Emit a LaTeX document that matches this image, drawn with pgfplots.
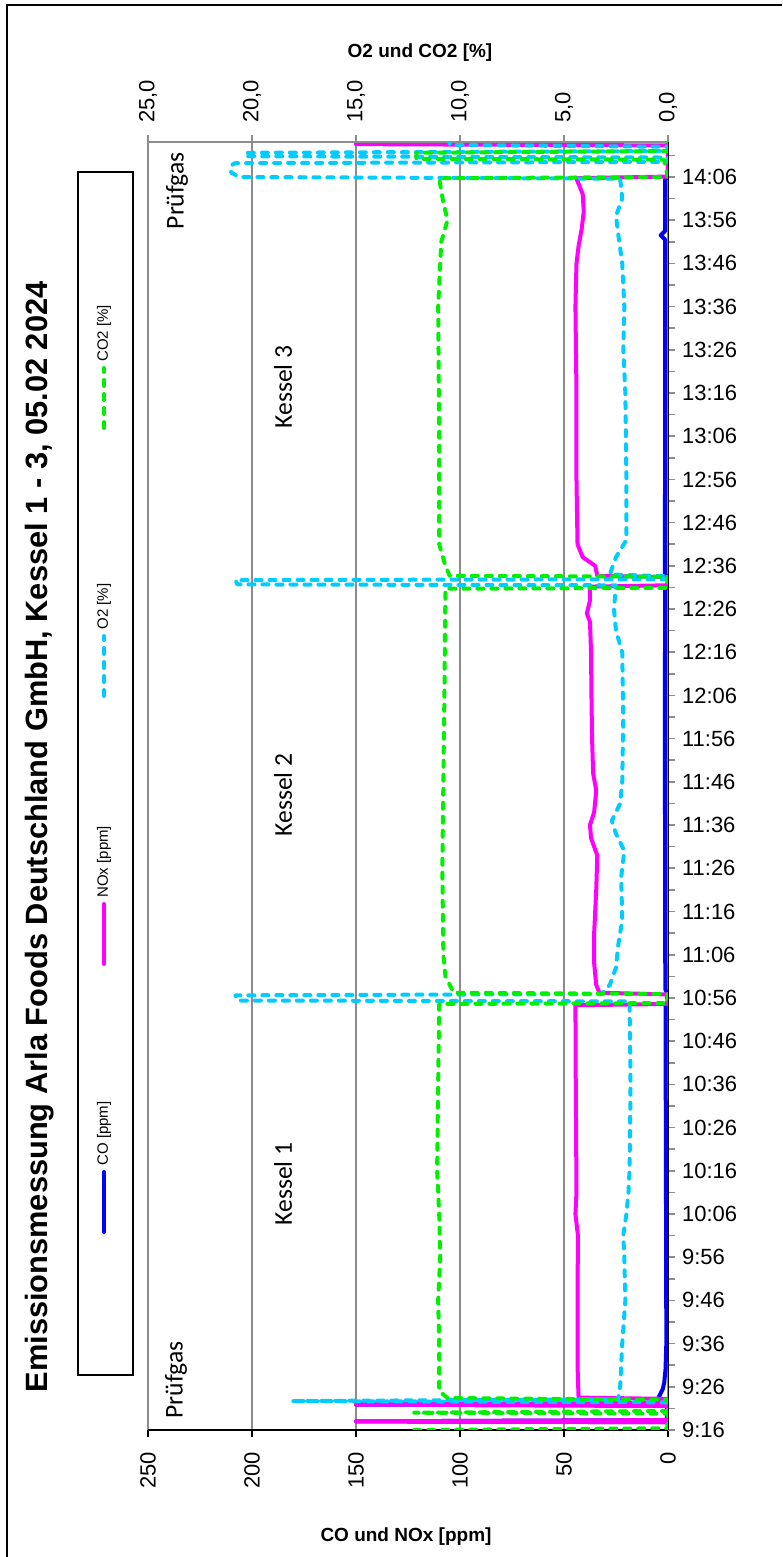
\documentclass[border=0pt]{standalone}
\usepackage{fontspec}
\setmainfont{Liberation Sans}
\newfontfamily\carlito{Carlito}
\usepackage{pgfplots}
\usepackage{pgfplotstable}
\pgfplotsset{compat=1.18}
\definecolor{cCO}{RGB}{0,0,255}
\definecolor{cNOx}{RGB}{255,0,255}
\definecolor{cO2}{RGB}{0,204,255}
\definecolor{cCO2}{RGB}{0,240,0}
\definecolor{gridgray}{RGB}{140,140,140}

% t = minutes after 9:16, v = value
\pgfplotstableread{
t v
0 0
1.8 0
2.0 150
2.3 0.5
5.6 0.5
5.9 150
6.2 1
7.0 3
7.6 4.5
8.5 3.5
9.5 2.5
11 1.8
14 1.2
20 0.8
40 0.9
60 1.0
80 1.1
98.5 1.1
99 0.2
101 0.3
102 1.3
130 1.4
160 1.5
194.5 1.4
195 0.2
197.5 0.2
198 1.5
230 1.4
260 1.4
275.5 1.4
276.5 3.5
277.5 1.4
289.5 1.4
290 0
298.1 0
}\tabCO

\pgfplotstableread{
t v
0 0
1.8 0
2.0 150
2.3 0
5.6 0
5.9 150
6.2 0
7.2 0
7.5 43
15 43.5
30 43.5
45 43.3
50 44.5
55 44
70 44.2
85 44.4
98.3 44.5
98.6 0
100.8 0
101.2 33
103 34.5
108 35.5
115 35.5
125 34.5
133 34
137 37
140 37.5
143 35.5
148 34.5
152 36
160 36.5
170 36.8
180 37
187 37.5
189 39
192 37.5
195.2 37.5
195.5 0
197.4 0
197.7 34
200 35
202 41
205 43.5
220 44
240 44
260 44.5
270 44
274 43
278 41.5
282 40.5
286 41
289 43.5
289.7 44
290.1 0
297.3 0
297.6 150
298.1 150
}\tabNOx

\pgfplotstableread{
t v
0 0
6.4 0
6.7 18.1
7.1 2.4
10 2.3
15 2.25
20 2.2
30 2.05
40 2.1
45 2.15
50 2.0
55 1.9
60 1.85
80 1.8
99.2 1.85
99.4 20.7
100.6 20.8
100.9 3.2
103 2.8
107 2.5
112 2.4
118 2.2
128 2.25
134 2.1
138 2.5
141 2.7
145 2.3
150 2.2
165 2.15
180 2.2
185 2.5
190 2.6
195.5 2.5
195.7 20.7
196.7 20.8
196.9 0
197.6 0
198 2.8
202 2.5
206 2.0
220 2.0
240 2.05
250 2.15
260 2.1
270 2.2
277 2.4
281 2.5
285 2.2
289.6 2.3
290 20.6
291 21
292.7 21
293.2 20.8
293.5 0
294.5 0
294.8 20.3
295.6 20.3
296 0
297.0 0
297.4 10.5
298.1 10.5
}\tabOtwo

\pgfplotstableread{
t v
0 12.2
0.4 0
3.8 0
4.0 12.2
4.4 0
7.0 0
7.4 10.6
9 11.0
20 11.0
30 11.05
40 10.95
50 11.0
60 11.1
80 11.05
98.6 11.0
98.8 0
100.9 0
101.2 10.3
105 10.7
110 10.8
130 10.85
150 10.8
170 10.75
194.7 10.7
194.9 0
197.5 0
197.7 10.5
200 10.7
205 11.0
230 11.0
260 11.05
275 10.9
280 10.6
284 10.8
289.7 11.0
290 0
294 0.2
294.2 12.1
295.6 12.1
296.0 0
298.1 0
}\tabCOtwo

% legend samples (legend-box units: x 0..55, y 0..1203)
\pgfplotstableread{
x y
26 143
26 203
}\legCO
\pgfplotstableread{
x y
26 411
26 471
}\legNOx
\pgfplotstableread{
x y
26 679
26 739
}\legOtwo
\pgfplotstableread{
x y
26 947
26 1007
}\legCOtwo

\pgfplotsset{
  costyle/.style={cCO, line width=2pt, line join=round},
  noxstyle/.style={cNOx, line width=2pt, line join=round},
  otwostyle/.style={cO2, line width=2pt, line cap=round, line join=round, dash pattern=on 3pt off 4pt},
  cotwostyle/.style={cCO2, line width=2pt, line cap=round, line join=round, dash pattern=on 3pt off 4pt},
}

\begin{document}
\begin{tikzpicture}[x=1pt,y=1pt]
\useasboundingbox (0,0) rectangle (391,778.5);
\draw[black, line width=1pt] (3.5,0) -- (3.5,776) -- (391,776);

\begin{axis}[
  at={(74pt,63.5pt)}, anchor=south west,
  width=260pt, height=644pt, scale only axis,
  xmin=0, xmax=250, ymin=0, ymax=298.1,
  x dir=reverse,
  axis x line*=bottom, axis y line*=right,
  axis line style={black, line width=0.8pt},
  xtick={0,50,...,250},
  xticklabel style={rotate=90, anchor=east, font=\fontsize{11}{13}\selectfont},
  xticklabel shift=4pt,
  /pgf/number format/assume math mode=true,
  xmajorgrids, grid style={gridgray, line width=1pt},
  ytick={0,10,...,290}, minor ytick={5,15,...,295},
  yticklabels={9:16,9:26,9:36,9:46,9:56,10:06,10:16,10:26,10:36,10:46,10:56,11:06,11:16,11:26,11:36,11:46,11:56,12:06,12:16,12:26,12:36,12:46,12:56,13:06,13:16,13:26,13:36,13:46,13:56,14:06},
  yticklabel style={anchor=west, font=\fontsize{11}{13}\selectfont},
  tick align=outside,
  major tick length=3.5pt, minor tick length=3.5pt,
  x tick style={black, line width=0.8pt},
  y tick style={gridgray, line width=0.8pt},
  clip=true,
]
\draw[gridgray, line width=1pt] (rel axis cs:1,0) -- (rel axis cs:1,1) -- (rel axis cs:0,1);
\addplot[costyle] table[x=v,y=t] {\tabCO};
\addplot[noxstyle] table[x=v,y=t] {\tabNOx};
\end{axis}

\begin{axis}[
  at={(74pt,63.5pt)}, anchor=south west,
  width=260pt, height=644pt, scale only axis,
  xmin=0, xmax=25, ymin=0, ymax=298.1,
  x dir=reverse,
  axis x line*=top, axis y line=none,
  axis line style={gridgray, line width=1pt},
  xtick={0,5,...,25},
  xticklabel style={rotate=90, anchor=west, font=\fontsize{11}{13}\selectfont,
    /pgf/number format/.cd, fixed, fixed zerofill, precision=1, use comma, assume math mode=true},
  xticklabel shift=2.5pt,
  tick align=outside,
  major tick length=3.5pt,
  x tick style={gridgray, line width=0.8pt},
]
\addplot[otwostyle] table[x=v,y=t] {\tabOtwo};
\addplot[cotwostyle] table[x=v,y=t] {\tabCOtwo};
\end{axis}

% legend box
\begin{axis}[
  at={(39pt,91pt)}, anchor=south west,
  width=27.5pt, height=601.5pt, scale only axis,
  xmin=0, xmax=55, ymin=0, ymax=1203,
  xtick=\empty, ytick=\empty,
  axis line style={black, line width=0.6pt},
  clip=false,
]
\addplot[costyle, line cap=round] table[x=x,y=y] {\legCO};
\addplot[noxstyle, line cap=round] table[x=x,y=y] {\legNOx};
\addplot[otwostyle] table[x=x,y=y] {\legOtwo};
\addplot[cotwostyle] table[x=x,y=y] {\legCOtwo};
\node[rotate=90, anchor=west, inner sep=0pt, font=\fontsize{7.5}{9}\selectfont] at (axis cs:26,209) {CO [ppm]};
\node[rotate=90, anchor=west, inner sep=0pt, font=\fontsize{7.5}{9}\selectfont] at (axis cs:26,477) {NOx [ppm]};
\node[rotate=90, anchor=west, inner sep=0pt, font=\fontsize{7.5}{9}\selectfont] at (axis cs:26,745) {O2 [\%]};
\node[rotate=90, anchor=west, inner sep=0pt, font=\fontsize{7.5}{9}\selectfont] at (axis cs:26,1013) {CO2 [\%]};
\end{axis}

\node[rotate=90, font=\bfseries\fontsize{15.4}{18}\selectfont] at (20,360) {Emissionsmessung Arla Foods Deutschland GmbH, Kessel 1 - 3, 05.02 2024};
\node[font=\bfseries\fontsize{9.5}{11}\selectfont] at (203,10) {CO und NOx [ppm]};
\node[font=\bfseries\fontsize{9.5}{11}\selectfont] at (210,752) {O2 und CO2 [\%]};
\node[rotate=90, font=\carlito\fontsize{12.8}{15}\selectfont] at (141.5,186.5) {Kessel 1};
\node[rotate=90, font=\carlito\fontsize{12.8}{15}\selectfont] at (141.5,381) {Kessel 2};
\node[rotate=90, font=\carlito\fontsize{12.8}{15}\selectfont] at (141.5,585) {Kessel 3};
\node[rotate=90, font=\carlito\fontsize{12.8}{15}\selectfont] at (88,88.5) {Prüfgas};
\node[rotate=90, font=\carlito\fontsize{12.8}{15}\selectfont] at (88.5,683) {Prüfgas};
\end{tikzpicture}
\end{document}
